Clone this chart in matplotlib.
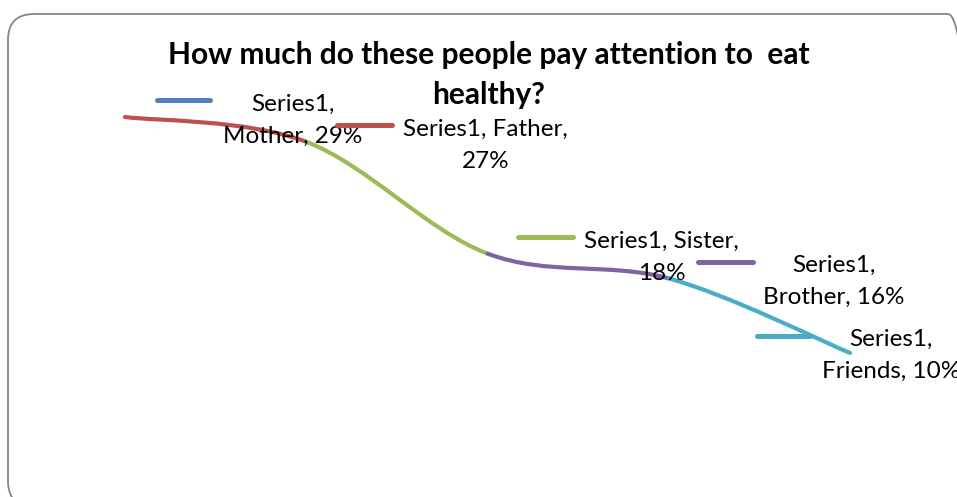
import matplotlib
matplotlib.use("Agg")
import matplotlib.pyplot as plt
from matplotlib.path import Path
from matplotlib.patches import PathPatch, FancyBboxPatch
from matplotlib.lines import Line2D
from matplotlib.transforms import IdentityTransform
import numpy as np

# ---------------- data ----------------
categories = ["Mother", "Father", "Sister", "Brother", "Friends"]
values = [29, 27, 18, 16, 10]
series_name = "Series1"
colors = ["#4F81BD", "#C0504D", "#9BBB59", "#8064A2", "#4BACC6"]
title_lines = ["How much do these people pay attention to  eat", "healthy?"]

# ---------------- layout ----------------
# which comma the data label wraps after (1 = after series name, 2 = after category)
wrap_after = [1, 2, 2, 1, 1]
# text centre offset (px) from the data point
text_off = [(168, -3), (179, -4), (174, -4), (165, -3), (41, -2)]
# legend-key offset (px) from data point: (x0, x1, y)
key_off = [(32, 85, 17), (31, 86, 17), (30, 85, 17), (29, 84, 16), (-93, -40, 17)]
title_y = [55, 95]

FONT = "Lato"
W, H, DPI = 957, 497, 100

fig = plt.figure(figsize=(W / DPI, H / DPI), dpi=DPI)
ax = fig.add_axes([0, 0, 1, 1])
ax.set_xlim(-0.6897, 4.590)
ax.set_ylim(-1.6, 38.42)
ax.axis("off")

# rounded chart border (extends past the right and bottom edges)
border = FancyBboxPatch((0.08, -0.10), 9.66, 4.93,
                        boxstyle="round,pad=0,rounding_size=0.26",
                        transform=fig.dpi_scale_trans, fill=False,
                        edgecolor="#868686", lw=1.3, clip_on=False)
fig.add_artist(border)

# smoothed line, colour varies by point (segment takes colour of its end point)
x = np.arange(len(values), dtype=float)
y = np.array(values, dtype=float)
pts = np.column_stack([x, y])
n = len(pts)
for i in range(n - 1):
    p0 = pts[max(i - 1, 0)]
    p1 = pts[i]
    p2 = pts[i + 1]
    p3 = pts[min(i + 2, n - 1)]
    c1 = p1 + (p2 - p0) / 6.0
    c2 = p2 - (p3 - p1) / 6.0
    path = Path([p1, c1, c2, p2],
                [Path.MOVETO, Path.CURVE4, Path.CURVE4, Path.CURVE4])
    ax.add_patch(PathPatch(path, fill=False, edgecolor=colors[i + 1],
                           lw=3.0, capstyle="round", zorder=2))

# data labels with legend keys
fig.canvas.draw()
for i, (cat, val) in enumerate(zip(categories, values)):
    parts = [f"{series_name},", f"{cat},", f"{val}%"]
    k = wrap_after[i]
    label = " ".join(parts[:k]) + "\n" + " ".join(parts[k:])
    dx, dy = text_off[i]
    ax.annotate(label, xy=(x[i], y[i]), xytext=(dx, dy),
                textcoords="offset pixels", ha="center", va="center",
                multialignment="center", fontsize=17.5, family=FONT,
                color="black", linespacing=1.65, zorder=3,
                annotation_clip=False)
    px, py = ax.transData.transform((x[i], y[i]))
    kx0, kx1, ky = key_off[i]
    fig.add_artist(Line2D([px + kx0, px + kx1], [py + ky, py + ky],
                          transform=IdentityTransform(), color=colors[i],
                          lw=3.6, solid_capstyle="round", zorder=3))

# title (two lines)
for line, ty in zip(title_lines, title_y):
    fig.text(489 / W, 1 - ty / H, line, ha="center", va="center",
             fontsize=21.5, fontweight="bold", family=FONT)

fig.savefig("out.png", dpi=DPI)
